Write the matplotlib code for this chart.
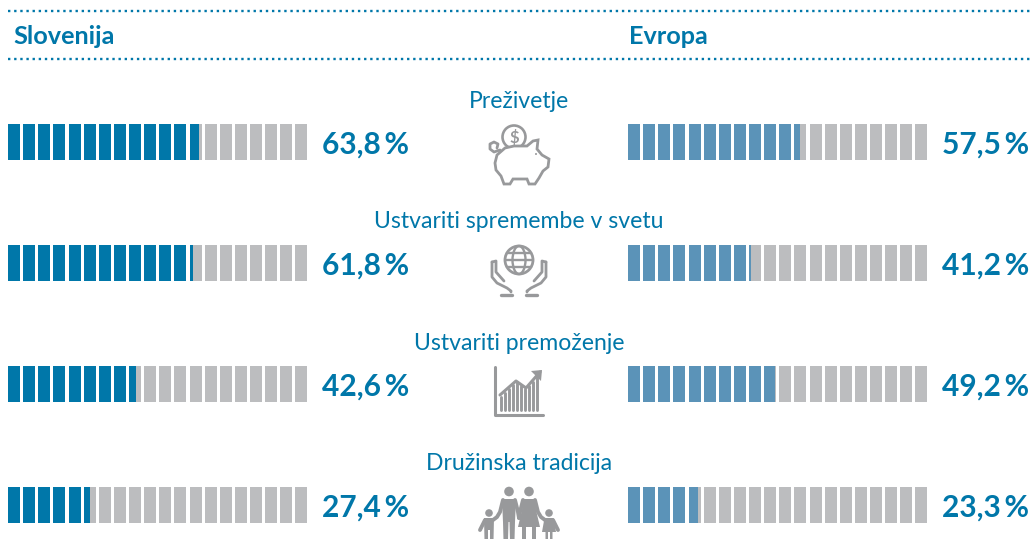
"""Slovenija / Evropa motive comparison with segmented bars"""

import matplotlib
matplotlib.use("Agg")
import matplotlib.pyplot as plt
from matplotlib.patches import Circle, Ellipse, Polygon

categories = ["Preživetje", "Ustvariti spremembe v svetu", "Ustvariti premoženje", "Družinska tradicija"]
slovenia = [63.8, 61.8, 42.6, 27.4]
europe = [57.5, 41.2, 49.2, 23.3]
headers = ["Slovenija", "Evropa"]

BLUE = "#0077a9"
LIGHT_BLUE = "#5b93b8"
GREY = "#bcbdbf"
ICON = "#98999b"
FONT = "Lato"

ROW_Y = [124, 245, 366, 487]
LABEL_Y = [99, 220, 341, 462]
N_SEG = 20


def draw_bar(ax, x0, y, val, color):
    pitch = 15.13
    seg_w = 12.0
    total = pitch * (N_SEG - 1) + seg_w
    fill_x = x0 + val / 100 * total
    for i in range(N_SEG):
        left = x0 + i * pitch
        ax.barh(y + 18, seg_w, height=36, left=left, color=GREY, linewidth=0)
        if fill_x > left:
            ax.barh(y + 18, min(seg_w, fill_x - left), height=36, left=left, color=color, linewidth=0)


def line(ax, xs, ys, lw=1.6):
    ax.plot(xs, ys, color=ICON, lw=lw, solid_capstyle="round", solid_joinstyle="round")


def pig(ax):
    ax.add_patch(Circle((514, 137), 11.5, fc="white", ec=ICON, lw=1.9, zorder=2))
    ax.text(514, 137, "$", color=ICON, fontsize=12, fontweight="bold", ha="center", va="center",
            family=FONT, zorder=3)
    body = [(495, 163), (497, 155), (505, 148), (514, 146), (527, 146), (533, 141), (538, 140),
            (537, 149), (542, 155), (549, 159), (548, 167), (543, 171), (539, 178), (535, 184),
            (529, 184), (527, 179), (513, 179), (510, 184), (504, 184), (501, 176), (496, 170)]
    ax.add_patch(Polygon(body, closed=True, fc="white", ec=ICON, lw=2, zorder=4))
    line(ax, [500, 494, 490, 490, 494, 498, 497], [150, 152, 149, 144, 142, 144, 148], 2)
    line(ax, [507, 525], [150, 146.5], 2)
    ax.add_patch(Circle((536, 154), 1.0, fc=ICON, ec="none", zorder=5))


def globe_hands(ax):
    ax.add_patch(Circle((519, 260), 14, fc="none", ec=ICON, lw=2))
    ax.add_patch(Ellipse((519, 260), 13, 28, fc="none", ec=ICON, lw=1.7))
    line(ax, [505, 533], [260, 260], 1.7)
    line(ax, [507, 531], [253, 253], 1.7)
    line(ax, [507, 531], [267, 267], 1.7)
    line(ax, [492, 492, 497, 507, 511, 511], [262, 277, 283, 288, 291, 292], 2)
    line(ax, [492, 496, 496, 504], [262, 261, 272, 281], 2)
    line(ax, [546, 546, 541, 531, 527, 527], [262, 277, 283, 288, 291, 292], 2)
    line(ax, [546, 542, 542, 534], [262, 261, 272, 281], 2)
    line(ax, [501, 512], [295, 295], 2.4)
    line(ax, [526, 537], [295, 295], 2.4)


def chart_icon(ax):
    line(ax, [494.5, 494.5, 543], [367, 415, 415], 2.2)
    xs = [501, 505, 509, 513, 517, 521, 525, 529, 533, 537]
    tops = [397, 393, 389, 385, 382, 386, 389, 386, 382, 376]
    for x, t in zip(xs, tops):
        line(ax, [x, x], [t, 410], 2.1)
    line(ax, [500, 516, 526, 540], [395, 381, 388, 372], 2.2)
    ax.add_patch(Polygon([(531, 371), (542, 370), (541, 381)], closed=True, fc=ICON, ec="none"))


def family(ax):
    # parents
    ax.add_patch(Circle((509, 491.5), 4.8, fc=ICON, ec="none"))
    ax.add_patch(Circle((529, 491.5), 4.8, fc=ICON, ec="none"))
    ax.add_patch(Polygon([(502, 499), (516, 499), (515, 522), (514.5, 540), (510, 540), (509.5, 522), (508.5, 522),
                          (508, 540), (503.5, 540), (503, 522)], closed=True, fc=ICON, ec="none"))
    ax.add_patch(Polygon([(523, 499), (535, 499), (536, 510), (540, 527), (536, 527), (536, 540), (532, 540),
                          (532, 527), (526, 527), (526, 540), (522, 540), (522, 527), (518, 527), (522, 510)],
                         closed=True, fc=ICON, ec="none"))
    # children
    ax.add_patch(Circle((489, 513), 3.8, fc=ICON, ec="none"))
    ax.add_patch(Circle((549, 513), 3.8, fc=ICON, ec="none"))
    ax.add_patch(Polygon([(484, 518), (494, 518), (493.5, 540), (490, 540), (490, 530), (488, 530), (488, 540),
                          (484.5, 540)], closed=True, fc=ICON, ec="none"))
    ax.add_patch(Polygon([(544.5, 518), (553.5, 518), (556, 532), (552.5, 532), (552.5, 540), (550, 540), (550, 532),
                          (548, 532), (548, 540), (545.5, 540), (545.5, 532), (542, 532)], closed=True, fc=ICON, ec="none"))
    # arms
    line(ax, [503, 500, 497, 493], [500, 512, 517, 520], 2.8)
    line(ax, [485, 480], [520, 530], 2.8)
    line(ax, [535, 538, 541, 545], [500, 512, 517, 520], 2.8)
    line(ax, [553, 558], [520, 530], 2.8)
    line(ax, [515, 518, 519], [500, 512, 518], 2.8)
    line(ax, [523, 520, 519], [500, 512, 518], 2.8)


fig = plt.figure(figsize=(10.33, 5.39), dpi=100)
ax = fig.add_axes([0, 0, 1, 1])
ax.set_xlim(0, 1033)
ax.set_ylim(539, 0)
ax.axis("off")

for y in [11, 59]:
    ax.plot([8, 1033], [y, y], color=BLUE, lw=1.7, linestyle=(0, (1, 1.6)))

ax.text(13, 37, headers[0], color=BLUE, fontsize=18.2, fontweight="bold", va="center", family=FONT)
ax.text(629, 37, headers[1], color=BLUE, fontsize=18.2, fontweight="bold", va="center", family=FONT)

for i, name in enumerate(categories):
    ax.text(519, LABEL_Y[i] + 2, name, color=BLUE, fontsize=16.6, ha="center", va="center", family=FONT)
    draw_bar(ax, 8, ROW_Y[i], slovenia[i], BLUE)
    draw_bar(ax, 628, ROW_Y[i], europe[i], LIGHT_BLUE)
    ax.text(322, ROW_Y[i] + 21, f"{slovenia[i]:.1f}\u2009%".replace(".", ","), color=BLUE, fontsize=21.5,
            fontweight="bold", va="center", family=FONT)
    ax.text(942, ROW_Y[i] + 21, f"{europe[i]:.1f}\u2009%".replace(".", ","), color=BLUE, fontsize=21.5,
            fontweight="bold", va="center", family=FONT)

pig(ax)
globe_hands(ax)
chart_icon(ax)
family(ax)

fig.savefig("out.png", dpi=100)
